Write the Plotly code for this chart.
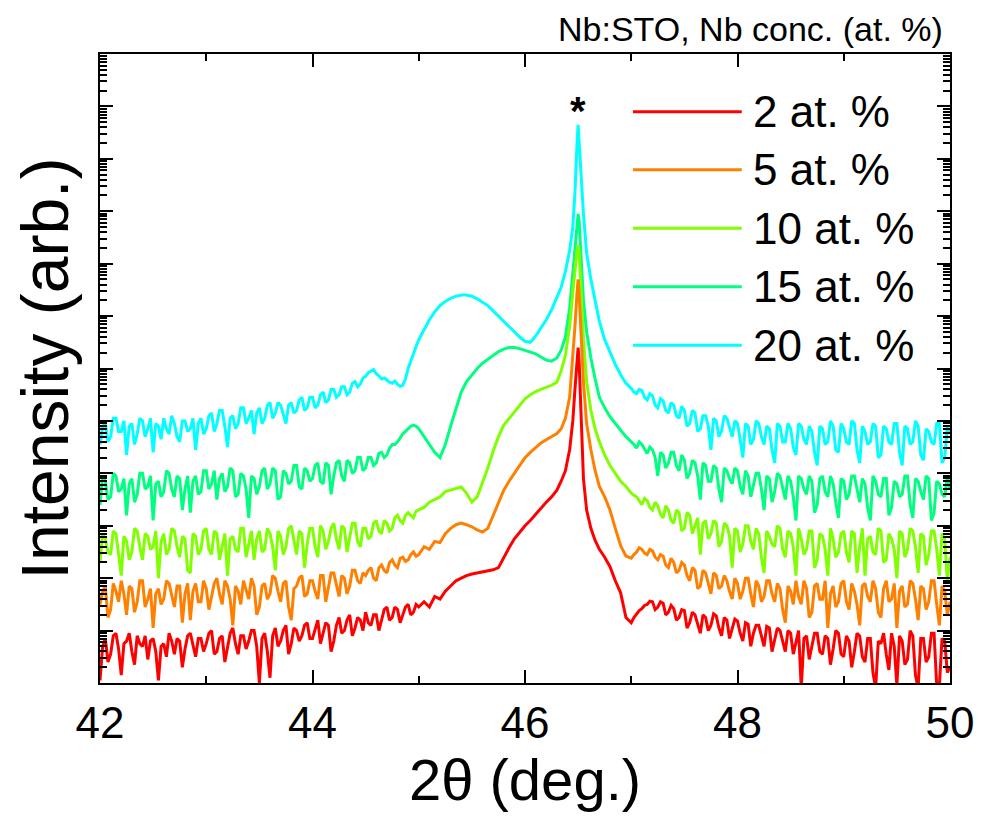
import numpy as np
import plotly.graph_objects as go

# 2theta sampling (deg.)
two_theta = [
    42.000, 42.025, 42.050, 42.075, 42.100, 42.125, 42.150, 42.175, 42.200, 42.225,
    42.250, 42.275, 42.300, 42.325, 42.350, 42.375, 42.400, 42.425, 42.450, 42.475,
    42.500, 42.525, 42.550, 42.575, 42.600, 42.625, 42.650, 42.675, 42.700, 42.725,
    42.750, 42.775, 42.800, 42.825, 42.850, 42.875, 42.900, 42.925, 42.950, 42.975,
    43.000, 43.025, 43.050, 43.075, 43.100, 43.125, 43.150, 43.175, 43.200, 43.225,
    43.250, 43.275, 43.300, 43.325, 43.350, 43.375, 43.400, 43.425, 43.450, 43.475,
    43.500, 43.525, 43.550, 43.575, 43.600, 43.625, 43.650, 43.675, 43.700, 43.725,
    43.750, 43.775, 43.800, 43.825, 43.850, 43.875, 43.900, 43.925, 43.950, 43.975,
    44.000, 44.025, 44.050, 44.075, 44.100, 44.125, 44.150, 44.175, 44.200, 44.225,
    44.250, 44.275, 44.300, 44.325, 44.350, 44.375, 44.400, 44.425, 44.450, 44.475,
    44.500, 44.525, 44.550, 44.575, 44.600, 44.625, 44.650, 44.675, 44.700, 44.725,
    44.750, 44.775, 44.800, 44.825, 44.850, 44.875, 44.900, 44.925, 44.950, 44.975,
    45.000,
    45.05, 45.10, 45.15, 45.20, 45.25, 45.30, 45.35, 45.40, 45.45,
    45.50, 45.55, 45.60, 45.65, 45.70, 45.75, 45.80, 45.85, 45.90, 45.95,
    46.00, 46.05, 46.10, 46.15, 46.20, 46.25, 46.30,
    46.34, 46.38, 46.42, 46.45, 46.47, 46.49, 46.50, 46.51, 46.53, 46.55,
    46.58, 46.62, 46.66, 46.70,
    46.75, 46.80, 46.85, 46.90, 46.95,
    47.000, 47.025, 47.050, 47.075, 47.100, 47.125, 47.150, 47.175, 47.200, 47.225,
    47.250, 47.275, 47.300, 47.325, 47.350, 47.375, 47.400, 47.425, 47.450, 47.475,
    47.500, 47.525, 47.550, 47.575, 47.600, 47.625, 47.650, 47.675, 47.700, 47.725,
    47.750, 47.775, 47.800, 47.825, 47.850, 47.875, 47.900, 47.925, 47.950, 47.975,
    48.000, 48.025, 48.050, 48.075, 48.100, 48.125, 48.150, 48.175, 48.200, 48.225,
    48.250, 48.275, 48.300, 48.325, 48.350, 48.375, 48.400, 48.425, 48.450, 48.475,
    48.500, 48.525, 48.550, 48.575, 48.600, 48.625, 48.650, 48.675, 48.700, 48.725,
    48.750, 48.775, 48.800, 48.825, 48.850, 48.875, 48.900, 48.925, 48.950, 48.975,
    49.000, 49.025, 49.050, 49.075, 49.100, 49.125, 49.150, 49.175, 49.200, 49.225,
    49.250, 49.275, 49.300, 49.325, 49.350, 49.375, 49.400, 49.425, 49.450, 49.475,
    49.500, 49.525, 49.550, 49.575, 49.600, 49.625, 49.650, 49.675, 49.700, 49.725,
    49.750, 49.775, 49.800, 49.825, 49.850, 49.875, 49.900, 49.925, 49.950, 49.975,
    50.000,
]

# log10(intensity) as stacked in the original plot
log_2 = [
    0.05, 0.70, 0.85, 0.40, 0.55, 0.90, 0.95, 0.65, 0.15, 0.75, 0.80, 0.95, 0.60, 0.35, 0.90, 0.75, 0.70, 0.90, 0.45, 0.80,
    0.85, 0.60, 0.05, 0.70, 0.75, 0.50, 0.95, 0.80, 0.55, 0.85, 0.80, 0.30, 0.65, 0.90, 0.95, 0.70, 0.50, 0.85, 0.85, 0.60,
    0.75, 0.95, 1.00, 0.55, 0.60, 0.85, 0.90, 0.40, 0.70, 0.95, 1.05, 0.75, 0.55, 0.90, 0.90, 0.65, 0.80, 1.00, 1.00, 0.70,
    0.00, 0.85, 0.95, 0.60, 0.10, 0.90, 1.05, 0.70, 0.80, 1.00, 1.10, 0.55, 0.75, 1.05, 1.00, 0.80, 0.90, 1.10, 1.15, 0.85,
    0.85, 1.05, 1.20, 0.75, 0.95, 1.15, 1.10, 0.60, 0.80, 1.10, 1.25, 0.95, 1.00, 1.20, 1.30, 0.90, 1.05, 1.25, 1.20, 1.00,
    1.35, 1.15, 1.10, 1.30, 1.30, 1.00, 1.20, 1.40, 1.45, 1.20, 1.25, 1.45, 1.40, 1.15, 1.30, 1.45, 1.50, 1.30, 1.35, 1.50,
    1.45,
    1.55, 1.45, 1.65, 1.60, 1.75, 1.85, 1.95, 2.00, 2.05,
    2.08, 2.10, 2.12, 2.15, 2.16, 2.20, 2.40, 2.58, 2.75, 2.88,
    3.00, 3.10, 3.22, 3.32, 3.45, 3.55, 3.68,
    3.85, 4.05, 4.45, 5.00, 5.60, 6.20, 6.40, 6.10, 4.90, 3.90,
    3.30, 2.95, 2.72, 2.55,
    2.40, 2.22, 1.95, 1.72, 1.25,
    1.15, 1.25, 1.32, 1.38, 1.42, 1.48, 1.50, 1.56, 1.55, 1.40, 1.45, 1.55, 1.52, 1.30, 1.35, 1.48, 1.42, 1.20, 1.25, 1.40,
    1.38, 1.05, 1.15, 1.35, 1.30, 1.10, 0.95, 1.30, 1.25, 1.00, 1.10, 1.32, 1.28, 1.05, 0.90, 1.25, 1.20, 0.85, 1.05, 1.22,
    1.18, 0.95, 0.80, 1.15, 1.12, 0.70, 0.95, 1.10, 1.10, 0.90, 0.70, 1.08, 1.05, 0.60, 0.85, 1.05, 1.00, 0.80, 0.60, 1.00,
    0.95, 0.55, 0.75, 1.00, -0.10, 0.85, 0.90, 0.45, 0.70, 0.95, 0.95, 0.60, 0.55, 0.90, 0.85, 0.35, 0.65, 1.00, 0.95, 0.55,
    0.50, 0.90, 0.80, 0.30, 0.60, 0.95, 0.90, 0.50, 0.40, 0.85, 0.85, 0.20, -0.10, 0.80, 0.75, 0.95, 0.55, 0.25, 0.95, 0.70,
    -0.05, 0.90, 0.80, 0.35, 0.45, 1.00, 0.90, 0.15, -0.10, 0.85, 0.85, 0.40, 0.50, 0.95, 0.95, -0.05, -0.05, 0.85, 0.80, 0.20,
    0.30,
]

log_5 = [
    1.50, 1.75, 1.85, 1.25, 1.40, 1.90, 1.75, 1.55, 1.95, 1.70, 1.30, 1.85, 1.80, 1.35, 1.55, 1.95, 1.95, 1.45, 1.60, 1.80,
    1.05, 1.70, 1.80, 1.50, 1.60, 1.95, 1.90, 1.65, 1.45, 1.85, 1.85, 1.15, 1.70, 1.90, 1.20, 1.75, 1.90, 1.55, 1.55, 1.95,
    1.80, 1.40, 1.65, 1.90, 2.00, 1.70, 1.50, 1.95, 1.85, 1.60, 1.10, 1.85, 1.75, 1.50, 1.95, 1.75, 1.60, 2.00, 1.85, 1.30,
    1.45, 1.85, 1.90, 1.60, 1.70, 2.05, 2.00, 1.75, 1.55, 1.90, 1.95, 1.45, 1.20, 1.80, 1.85, 2.00, 2.05, 1.65, 1.70, 1.95,
    1.95, 1.75, 1.60, 2.05, 2.05, 1.55, 1.80, 2.10, 2.10, 1.85, 1.65, 2.05, 2.00, 1.70, 1.85, 2.15, 2.15, 1.95, 1.90, 2.10,
    2.05, 2.15, 2.20, 2.00, 1.95, 2.20, 2.25, 2.15, 2.10, 2.30, 2.35, 2.25, 2.20, 2.38, 2.40, 2.32, 2.35, 2.45, 2.50, 2.42,
    2.45,
    2.60, 2.55, 2.70, 2.68, 2.85, 2.95, 3.02, 3.05, 3.02,
    2.98, 2.92, 2.88, 2.95, 3.20, 3.45, 3.68, 3.85, 4.00, 4.15,
    4.30, 4.40, 4.50, 4.58, 4.64, 4.70, 4.76,
    4.85, 5.05, 5.45, 6.20, 6.80, 7.45, 7.70, 7.40, 6.50, 5.75,
    4.95, 4.45, 4.05, 3.75,
    3.55, 3.30, 2.95, 2.62, 2.42,
    2.38, 2.45, 2.50, 2.58, 2.55, 2.48, 2.45, 2.55, 2.52, 2.40, 2.35, 2.45, 2.42, 2.25, 2.20, 2.38, 2.30, 2.10, 2.15, 2.30,
    2.25, 2.05, 1.95, 2.20, 2.15, 1.80, 1.85, 2.15, 2.10, 1.90, 1.70, 2.10, 2.05, 1.80, 1.85, 2.05, 1.95, 1.75, 1.60, 2.00,
    1.90, 1.60, 1.75, 2.00, 2.00, 1.70, 1.45, 1.95, 1.85, 1.55, 1.65, 1.95, 1.95, 1.70, 1.55, 1.90, 1.80, 1.40, 1.15, 1.85,
    1.75, 1.50, 1.95, 1.65, 1.50, 1.95, 1.80, 1.25, 1.35, 1.85, 1.90, 1.60, 1.60, 1.95, 1.05, 1.70, 1.85, 1.45, 1.55, 1.90,
    1.95, 1.55, 1.40, 1.90, 1.75, 1.50, 1.10, 1.85, 1.90, 1.65, 1.55, 1.95, 1.80, 1.35, 1.25, 1.80, 1.95, 1.55, 1.60, 1.90,
    1.05, 1.75, 1.85, 1.45, 1.50, 1.95, 1.90, 1.60, 1.20, 1.85, 1.80, 1.40, 1.55, 1.95, 1.95, 1.50, 1.10, 1.85, 1.75, 1.30,
    1.55,
]

log_10 = [
    2.30, 2.85, 2.75, 2.50, 2.45, 2.90, 2.85, 2.40, 2.05, 2.80, 2.70, 2.35, 2.50, 2.95, 2.90, 2.60, 2.35, 2.85, 2.80, 2.55,
    2.60, 2.90, 2.00, 2.70, 2.85, 2.45, 2.55, 2.95, 2.90, 2.60, 2.40, 2.80, 2.75, 2.15, 2.10, 2.85, 2.80, 2.45, 2.55, 2.90,
    2.95, 2.55, 2.45, 2.90, 2.85, 2.35, 2.60, 2.85, 2.05, 2.75, 2.80, 2.55, 2.50, 2.95, 2.95, 2.40, 2.65, 2.90, 2.35, 2.75,
    2.90, 2.50, 2.55, 2.95, 2.85, 2.60, 2.15, 2.90, 2.80, 2.45, 2.60, 2.95, 3.00, 2.70, 2.45, 2.90, 2.85, 2.20, 2.65, 2.95,
    2.95, 2.60, 2.40, 3.00, 2.90, 2.55, 2.70, 2.95, 3.05, 2.75, 2.55, 3.00, 2.95, 2.50, 2.75, 3.05, 3.05, 2.70, 2.60, 2.95,
    2.95, 2.75, 2.80, 3.05, 3.10, 2.90, 2.85, 3.10, 3.05, 2.90, 2.95, 3.15, 3.20, 3.10, 3.05, 3.20, 3.25, 3.20, 3.15, 3.28,
    3.30,
    3.35, 3.45, 3.50, 3.55, 3.65, 3.68, 3.72, 3.74, 3.62,
    3.45, 3.55, 3.82, 4.10, 4.42, 4.70, 4.92, 5.05, 5.18, 5.30,
    5.42, 5.50, 5.56, 5.60, 5.64, 5.68, 5.74,
    5.95, 6.25, 6.80, 7.45, 7.90, 8.25, 8.35, 8.20, 7.40, 6.55,
    5.75, 5.20, 4.85, 4.60,
    4.35, 4.15, 4.00, 3.85, 3.75,
    3.62, 3.58, 3.55, 3.48, 3.40, 3.52, 3.48, 3.35, 3.30, 3.45, 3.38, 3.22, 3.15, 3.38, 3.30, 3.10, 3.05, 3.30, 3.25, 2.90,
    2.95, 3.25, 3.20, 2.85, 3.00, 3.15, 2.45, 3.05, 3.10, 2.75, 2.85, 3.10, 3.05, 2.60, 2.70, 3.05, 3.00, 2.80, 2.20, 2.95,
    2.90, 2.50, 2.65, 3.00, 3.00, 2.70, 2.55, 2.95, 2.85, 2.40, 2.10, 2.90, 2.80, 2.65, 2.60, 3.00, 2.95, 2.55, 2.40, 2.90,
    2.85, 2.60, 2.05, 2.95, 2.75, 2.45, 2.55, 2.90, 2.90, 2.20, 2.35, 2.85, 2.80, 2.55, 2.05, 2.95, 2.75, 2.40, 2.50, 2.85,
    2.90, 2.50, 2.30, 2.90, 2.85, 2.10, 2.60, 2.95, 2.05, 2.75, 2.80, 2.50, 2.45, 2.95, 2.90, 2.30, 2.35, 2.85, 2.75, 2.55,
    2.00, 2.90, 2.85, 2.40, 2.55, 2.95, 2.90, 2.60, 2.10, 2.85, 2.80, 2.25, 2.45, 2.90, 2.90, 2.55, 2.05, 2.85, 2.75, 1.95,
    2.40,
]

log_15 = [
    3.40, 3.95, 3.85, 3.50, 3.55, 4.00, 3.95, 3.65, 3.70, 3.90, 3.20, 3.80, 3.90, 3.45, 3.60, 4.00, 4.00, 3.70, 3.75, 3.95,
    3.10, 3.80, 3.85, 3.55, 3.65, 4.05, 4.00, 3.70, 3.55, 3.95, 3.90, 3.30, 3.70, 3.95, 3.25, 3.85, 3.95, 3.60, 3.65, 4.05,
    4.05, 3.70, 3.80, 4.05, 3.50, 3.90, 4.00, 3.65, 3.75, 4.10, 4.05, 3.55, 3.60, 4.00, 3.95, 3.70, 3.15, 3.95, 3.90, 3.60,
    3.75, 4.05, 4.10, 3.70, 3.80, 4.10, 4.05, 3.50, 3.55, 4.05, 4.00, 3.80, 3.85, 4.15, 4.15, 3.75, 3.70, 4.10, 4.05, 3.85,
    3.90, 4.15, 4.20, 3.85, 3.80, 4.20, 4.15, 3.60, 3.95, 4.20, 4.25, 3.95, 3.85, 4.25, 4.20, 4.00, 4.05, 4.30, 4.30, 4.05,
    4.10, 4.30, 4.30, 4.15, 4.20, 4.38, 4.40, 4.30, 4.35, 4.48, 4.55, 4.55, 4.60, 4.68, 4.75, 4.80, 4.85, 4.90, 4.92, 4.90,
    4.85,
    4.70, 4.55, 4.40, 4.30, 4.55, 4.90, 5.25, 5.55, 5.75,
    5.88, 6.00, 6.10, 6.18, 6.25, 6.32, 6.37, 6.40, 6.40, 6.38,
    6.35, 6.32, 6.28, 6.22, 6.16, 6.14, 6.20,
    6.35, 6.60, 7.15, 7.80, 8.30, 8.80, 8.95, 8.80, 8.00, 7.30,
    6.70, 6.20, 5.80, 5.45,
    5.25, 5.08, 4.95, 4.82, 4.70,
    4.60, 4.55, 4.48, 4.60, 4.55, 4.45, 4.38, 4.50, 4.45, 4.30, 3.95, 4.40, 4.35, 4.10, 4.20, 4.40, 4.40, 4.15, 4.05, 4.35,
    4.25, 3.90, 4.00, 4.25, 4.20, 3.95, 3.50, 4.20, 4.15, 3.85, 3.85, 4.15, 4.10, 3.70, 3.45, 4.10, 4.05, 3.90, 3.80, 4.10,
    4.05, 3.75, 3.60, 4.05, 3.95, 3.55, 3.75, 4.00, 4.00, 3.70, 3.30, 3.95, 3.90, 3.45, 3.65, 4.00, 3.95, 3.75, 3.50, 3.95,
    3.85, 3.55, 3.10, 3.95, 3.90, 3.70, 3.60, 3.95, 3.85, 3.25, 3.40, 3.90, 3.95, 3.65, 3.55, 3.95, 3.80, 3.45, 3.15, 3.90,
    3.85, 3.50, 3.60, 3.95, 3.95, 3.70, 3.45, 3.90, 3.80, 3.35, 3.10, 3.95, 3.85, 3.60, 3.55, 3.90, 3.90, 3.20, 3.35, 3.85,
    3.80, 3.55, 3.60, 3.95, 3.95, 3.40, 3.15, 3.90, 3.85, 3.65, 3.50, 3.95, 3.90, 3.10, 3.25, 3.85, 3.80, 3.60, 3.55, 3.95,
    3.70,
]

log_20 = [
    4.55, 4.90, 4.95, 4.60, 4.70, 5.05, 5.05, 4.80, 4.80, 5.00, 4.35, 4.90, 4.95, 4.55, 4.75, 5.05, 5.00, 4.70, 4.85, 5.05,
    4.40, 4.95, 4.90, 4.65, 5.05, 4.85, 4.75, 5.10, 4.95, 4.70, 4.60, 5.00, 5.00, 4.80, 4.85, 5.05, 4.45, 4.95, 5.05, 4.75,
    4.85, 5.10, 5.15, 4.80, 4.95, 5.20, 5.20, 4.90, 4.50, 5.05, 5.10, 4.85, 4.95, 5.25, 5.25, 4.95, 5.05, 5.20, 4.75, 5.15,
    5.25, 4.95, 5.05, 5.30, 5.35, 5.05, 5.15, 5.35, 5.30, 5.10, 4.95, 5.30, 5.35, 5.15, 5.20, 5.40, 5.45, 5.20, 5.25, 5.45,
    5.45, 5.25, 5.30, 5.50, 5.55, 5.35, 5.40, 5.60, 5.60, 5.45, 5.50, 5.65, 5.65, 5.50, 5.55, 5.72, 5.75, 5.65, 5.70, 5.82,
    5.85, 5.92, 5.95, 5.98, 5.90, 5.86, 5.80, 5.82, 5.78, 5.74, 5.72, 5.76, 5.70, 5.66, 5.68, 5.80, 6.00, 6.15, 6.30, 6.42,
    6.55,
    6.75, 6.93, 7.08, 7.20, 7.28, 7.34, 7.38, 7.40, 7.40,
    7.38, 7.33, 7.27, 7.20, 7.10, 7.00, 6.90, 6.80, 6.70, 6.60,
    6.52, 6.50, 6.62, 6.78, 6.93, 7.12, 7.35,
    7.55, 7.85, 8.25, 8.70, 9.35, 10.30, 10.65, 10.30, 9.50, 8.95,
    8.20, 7.70, 7.30, 6.90,
    6.55, 6.30, 6.08, 5.88, 5.72,
    5.62, 5.55, 5.52, 5.60, 5.58, 5.45, 5.40, 5.52, 5.48, 5.30, 5.25, 5.42, 5.38, 5.20, 5.15, 5.35, 5.30, 5.10, 5.05, 5.28,
    5.20, 4.90, 4.95, 5.20, 5.15, 4.80, 4.85, 5.10, 5.10, 4.90, 4.45, 5.05, 5.00, 4.70, 4.80, 5.10, 5.05, 4.85, 4.70, 5.00,
    4.95, 4.65, 4.30, 4.95, 4.90, 4.55, 4.65, 5.00, 4.95, 4.70, 4.55, 4.90, 4.85, 4.45, 4.20, 4.95, 4.90, 4.60, 4.60, 4.95,
    4.85, 4.50, 4.35, 4.95, 4.90, 4.65, 4.55, 4.90, 4.80, 4.40, 4.15, 4.90, 4.85, 4.55, 4.60, 5.00, 4.90, 4.45, 4.40, 4.95,
    4.85, 4.60, 4.55, 5.00, 4.95, 4.45, 4.20, 4.90, 4.80, 4.55, 4.60, 4.95, 4.90, 4.30, 4.35, 4.90, 4.85, 4.60, 4.55, 4.95,
    4.95, 4.40, 4.15, 4.90, 4.85, 4.55, 4.60, 5.00, 4.90, 4.35, 4.25, 4.85, 4.80, 4.60, 4.55, 4.95, 4.95, 4.20, 4.30, 4.90,
    4.75,
]

labels = ["2 at. %", "5 at. %", "10 at. %", "15 at. %", "20 at. %"]
colors = ["#ff0000", "#ff8000", "#80ff00", "#00ff80", "#00ffff"]
series = [log_2, log_5, log_10, log_15, log_20]

for s in series:
    assert len(s) == len(two_theta), (len(s), len(two_theta))

FONT = "Liberation Sans, Arial, sans-serif"

fig = go.Figure()
# 20 % first so the lower concentrations end up on top
for lab, col, s in reversed(list(zip(labels, colors, series))):
    fig.add_trace(go.Scatter(
        x=two_theta, y=10 ** np.array(s), mode="lines", name=lab,
        line=dict(color=col, width=3), showlegend=False,
    ))

# legend drawn by hand to get the long line samples
shapes, annotations = [], []
leg_y = [0.908, 0.816, 0.723, 0.630, 0.537]
for lab, col, yy in zip(labels, colors, leg_y):
    shapes.append(dict(type="line", xref="paper", yref="paper",
                       x0=0.627, x1=0.755, y0=yy, y1=yy,
                       line=dict(color=col, width=3)))
    annotations.append(dict(xref="paper", yref="paper", x=0.766, y=yy,
                            text=lab, showarrow=False, xanchor="left",
                            yanchor="middle", font=dict(family=FONT, size=44, color="black")))

annotations.append(dict(xref="paper", yref="paper", x=0.994, y=1.040,
                        text="Nb:STO, Nb conc. (at. %)", showarrow=False,
                        xanchor="right", yanchor="middle",
                        font=dict(family=FONT, size=34, color="black")))
annotations.append(dict(x=46.5, y=10.92, xref="x", yref="y", text="<b>*</b>",
                        showarrow=False, yanchor="middle",
                        font=dict(family=FONT, size=40, color="black")))

# page body has an 8 px margin, so the figure is 8 px smaller than the window
fig.update_layout(
    width=974, height=826,
    margin=dict(l=92, r=32, t=46, b=151),
    paper_bgcolor="white", plot_bgcolor="white",
    shapes=shapes, annotations=annotations,
    showlegend=False,
)
fig.update_xaxes(
    range=[42, 50], dtick=2, tick0=42, automargin=False,
    showline=True, linecolor="black", linewidth=2, mirror="allticks",
    ticks="inside", ticklen=13, tickwidth=2, tickcolor="black",
    minor=dict(dtick=1, ticks="inside", ticklen=7, tickwidth=2, tickcolor="black"),
    showgrid=False, zeroline=False,
    tickfont=dict(family=FONT, size=44, color="black"),
    ticklabelstandoff=0,
    title=dict(text="2θ (deg.)", font=dict(family=FONT, size=58, color="black"), standoff=12),
)
fig.update_yaxes(
    type="log", range=[0, 12], dtick=1, automargin=False,
    showline=True, linecolor="black", linewidth=2, mirror="allticks",
    ticks="inside", ticklen=13, tickwidth=2, tickcolor="black",
    minor=dict(dtick="D1", ticks="inside", ticklen=7, tickwidth=1.5, tickcolor="black"),
    showgrid=False, zeroline=False, showticklabels=False,
    title=dict(text="Intensity (arb.)", font=dict(family=FONT, size=66, color="black"), standoff=12),
)

fig.write_html("out.html")
